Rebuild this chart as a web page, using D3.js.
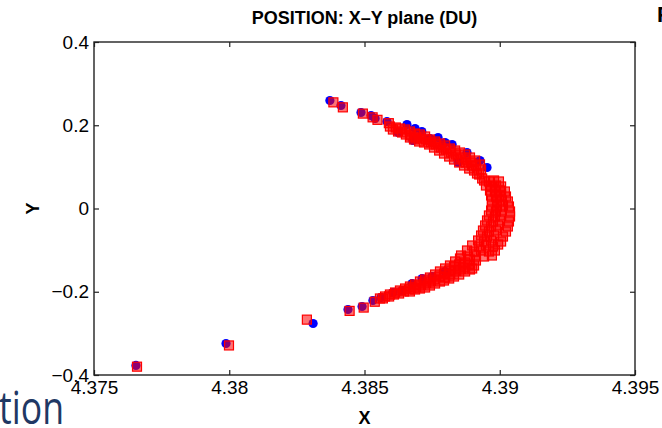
<!DOCTYPE html>
<html>
<head>
<meta charset="utf-8">
<script src="https://cdn.jsdelivr.net/npm/d3@7"></script>
<style>
  body { margin: 0; background: #fff; }
  svg { display: block; font-family: "Liberation Sans", Arial, sans-serif; }
</style>
</head>
<body>
<div id="chart"></div>
<script>
//////////////////////////////////////////////
// Data //////////////////////////////////////
//////////////////////////////////////////////
var xTicks = [4.375, 4.38, 4.385, 4.39, 4.395];
var xTickLabels = ["4.375", "4.38", "4.385", "4.39", "4.395"];
var yTicks = [-0.4, -0.2, 0, 0.2, 0.4];
var yTickLabels = ["\u22120.4", "\u22120.2", "0", "0.2", "0.4"];

// blue filled circles [X, Y]
var bluePoints = [
  [4.37655, -0.3771], [4.37988, -0.3243], [4.38310, -0.2763],
  [4.38372, 0.2595], [4.38413, 0.2474], [4.38487, 0.2306], [4.38524, 0.2234],
  [4.38539, 0.2162], [4.38583, 0.2090], [4.38624, 0.1826], [4.38657, 0.2018],
  [4.38687, 0.1922], [4.38679, 0.1634], [4.38712, 0.1850], [4.38742, 0.1682],
  [4.38772, 0.1706], [4.38798, 0.1586], [4.38824, 0.1538],
  [4.38846, 0.1105], [4.38879, 0.1345], [4.38927, 0.1153], [4.38953, 0.0985],
  [4.38439, -0.2426], [4.38491, -0.2354], [4.38531, -0.2210], [4.38561, -0.2138],
  [4.38605, -0.2018], [4.38639, -0.1970], [4.38676, -0.1802], [4.38713, -0.1682],
  [4.38750, -0.1634], [4.38798, -0.1513]
];

// red open squares [X, Y]
var redPoints = [
  // isolated
  [4.37659, -0.380], [4.37999, -0.329], [4.38287, -0.267],
  [4.38385, 0.255], [4.38420, 0.243], [4.38494, 0.228], [4.38530, 0.219],
  [4.38548, 0.213], [4.38590, 0.205],
  [4.38445, -0.246], [4.38497, -0.238], [4.38538, -0.224], [4.38568, -0.216],
  // upper arm
  [4.38594, 0.1970], [4.38605, 0.1898],
  [4.38616, 0.1946], [4.38624, 0.1850],
  [4.38631, 0.1922], [4.38639, 0.1826],
  [4.38650, 0.1898], [4.38653, 0.1778],
  [4.38668, 0.1850], [4.38672, 0.1754], [4.38668, 0.1706],
  [4.38687, 0.1802], [4.38690, 0.1706], [4.38683, 0.1658],
  [4.38705, 0.1778], [4.38709, 0.1682], [4.38702, 0.1610],
  [4.38724, 0.1730], [4.38727, 0.1658], [4.38720, 0.1586],
  [4.38742, 0.1658], [4.38746, 0.1586], [4.38739, 0.1538],
  [4.38761, 0.1610], [4.38764, 0.1538], [4.38757, 0.1465],
  [4.38779, 0.1562], [4.38783, 0.1465], [4.38776, 0.1393],
  [4.38798, 0.1514], [4.38801, 0.1417], [4.38794, 0.1321],
  [4.38816, 0.1441], [4.38820, 0.1345], [4.38813, 0.1249],
  [4.38835, 0.1393], [4.38838, 0.1297], [4.38831, 0.1177],
  [4.38853, 0.1345], [4.38857, 0.1225], [4.38850, 0.1105],
  [4.38872, 0.1297], [4.38875, 0.1177], [4.38868, 0.1033], [4.38875, 0.1105],
  [4.38890, 0.1225], [4.38894, 0.1105], [4.38887, 0.0961], [4.38898, 0.1033],
  [4.38909, 0.1153], [4.38912, 0.1033], [4.38905, 0.0913], [4.38916, 0.0841],
  [4.38927, 0.1057], [4.38931, 0.0937], [4.38924, 0.0817], [4.38935, 0.0721],
  // tip
  [4.38942, 0.0673], [4.38960, 0.0649], [4.38979, 0.0673], [4.38997, 0.0649],
  [4.38949, 0.0553], [4.38968, 0.0529], [4.38986, 0.0553], [4.39005, 0.0529],
  [4.38964, 0.0432], [4.38982, 0.0408], [4.39001, 0.0432], [4.39019, 0.0408],
  [4.38968, 0.0312], [4.38986, 0.0288], [4.39005, 0.0312], [4.39023, 0.0288],
  [4.38971, 0.0192], [4.38990, 0.0168], [4.39008, 0.0192], [4.39030, 0.0168],
  [4.38971, 0.0072], [4.38990, 0.0048], [4.39012, 0.0072], [4.39034, 0.0048],
  [4.38968, -0.0048], [4.38986, -0.0072], [4.39008, -0.0048], [4.39038, -0.0072],
  [4.38960, -0.0168], [4.38982, -0.0192], [4.39005, -0.0168], [4.39038, -0.0192],
  [4.38953, -0.0288], [4.38975, -0.0312], [4.39001, -0.0288], [4.39034, -0.0312],
  [4.38946, -0.0408], [4.38968, -0.0432], [4.38994, -0.0408], [4.39030, -0.0432],
  [4.38938, -0.0529], [4.38960, -0.0553], [4.38986, -0.0529], [4.39023, -0.0553],
  [4.38931, -0.0649], [4.38953, -0.0673], [4.38979, -0.0649], [4.39012, -0.0673],
  [4.38920, -0.0769], [4.38942, -0.0793], [4.38968, -0.0769], [4.39005, -0.0793],
  [4.38898, -0.0889], [4.38924, -0.0913], [4.38949, -0.0889], [4.38975, -0.0913], [4.38994, -0.0865],
  [4.38879, -0.1009], [4.38905, -0.1033], [4.38931, -0.1009], [4.38960, -0.1033], [4.38982, -0.1009],
  [4.38857, -0.1129], [4.38883, -0.1153], [4.38912, -0.1129], [4.38942, -0.1153], [4.38971, -0.1129],
  // lower arm
  [4.38912, -0.1249], [4.38905, -0.1369], [4.38898, -0.1441],
  [4.38890, -0.1225], [4.38887, -0.1345], [4.38890, -0.1465],
  [4.38872, -0.1297], [4.38868, -0.1417], [4.38872, -0.1513],
  [4.38853, -0.1201], [4.38850, -0.1345], [4.38853, -0.1465], [4.38850, -0.1586],
  [4.38835, -0.1273], [4.38831, -0.1393], [4.38835, -0.1513], [4.38831, -0.1634],
  [4.38816, -0.1369], [4.38813, -0.1489], [4.38816, -0.1586], [4.38813, -0.1682],
  [4.38798, -0.1441], [4.38794, -0.1562], [4.38798, -0.1658], [4.38794, -0.1730],
  [4.38779, -0.1513], [4.38776, -0.1634], [4.38779, -0.1754],
  [4.38761, -0.1586], [4.38757, -0.1706], [4.38761, -0.1802],
  [4.38742, -0.1658], [4.38739, -0.1754], [4.38742, -0.1850],
  [4.38724, -0.1706], [4.38720, -0.1802], [4.38724, -0.1898],
  [4.38705, -0.1754], [4.38702, -0.1850], [4.38705, -0.1922],
  [4.38687, -0.1826], [4.38683, -0.1898], [4.38687, -0.1946],
  [4.38668, -0.1874], [4.38665, -0.1946], [4.38668, -0.1994],
  [4.38650, -0.1922], [4.38646, -0.1994],
  [4.38631, -0.1970], [4.38628, -0.2042],
  [4.38613, -0.2018], [4.38609, -0.2066],
  [4.38594, -0.2066], [4.38591, -0.2114],
  [4.38576, -0.2114], [4.38557, -0.2162]
];

//////////////////////////////////////////////
// Chart Config /////////////////////////////
//////////////////////////////////////////////
var W = 662, H = 428;
var margin = {top: 42, right: 27, bottom: 53, left: 94};
var width = W - margin.left - margin.right,
    height = H - margin.top - margin.bottom;

var xScale = d3.scaleLinear().domain([4.375, 4.395]).range([0, width]);
var yScale = d3.scaleLinear().domain([-0.4, 0.4]).range([height, 0]);

var svg = d3.select("#chart").append("svg")
    .attr("width", W)
    .attr("height", H);

// slide text poking in from the edges
svg.append("text")
    .attr("x", -1).attr("y", 424)
    .attr("textLength", 65)
    .attr("lengthAdjust", "spacingAndGlyphs")
    .style("font-family", "'Open Sans', 'Noto Sans', sans-serif")
    .style("font-size", "46px")
    .style("fill", "#1f3864")
    .text("tion");

svg.append("text")
    .attr("x", 657).attr("y", 22)
    .style("font-size", "22px")
    .style("font-weight", "bold")
    .text("P");

var artboard = svg.append("g")
    .attr("transform", "translate(" + margin.left + "," + margin.top + ")");

// points
artboard.append("g").selectAll("circle")
    .data(bluePoints)
  .enter().append("circle")
    .attr("cx", function(d) { return xScale(d[0]); })
    .attr("cy", function(d) { return yScale(d[1]); })
    .attr("r", 4.6)
    .style("fill", "#0000ff");

var sq = 9;
artboard.append("g").selectAll("rect")
    .data(redPoints)
  .enter().append("rect")
    .attr("x", function(d) { return xScale(d[0]) - sq / 2; })
    .attr("y", function(d) { return yScale(d[1]) - sq / 2; })
    .attr("width", sq)
    .attr("height", sq)
    .style("fill", "rgba(255,0,0,0.55)")
    .style("stroke", "#ff0000")
    .style("stroke-width", 1.2);

// axes (ticks pointing inward on all four sides)
function styleAxis(g) {
  g.select(".domain").remove();
  g.selectAll(".tick line").style("stroke", "#222").style("stroke-width", 1.2);
  g.selectAll(".tick text")
    .style("font-size", "19px")
    .style("font-family", "'Liberation Sans', Arial, sans-serif")
    .style("fill", "#000");
}

artboard.append("g")
    .attr("transform", "translate(0," + height + ")")
    .call(d3.axisBottom(xScale).tickValues(xTicks).tickSize(-5).tickPadding(6)
      .tickFormat(function(d, i) { return xTickLabels[i]; }))
    .call(styleAxis);

artboard.append("g")
    .call(d3.axisTop(xScale).tickValues(xTicks).tickSize(-5).tickFormat(""))
    .call(styleAxis);

artboard.append("g")
    .call(d3.axisLeft(yScale).tickValues(yTicks).tickSize(-5).tickPadding(5)
      .tickFormat(function(d, i) { return yTickLabels[i]; }))
    .call(styleAxis);

artboard.append("g")
    .attr("transform", "translate(" + width + ",0)")
    .call(d3.axisRight(yScale).tickValues(yTicks).tickSize(-5).tickFormat(""))
    .call(styleAxis);

// frame
artboard.append("rect")
    .attr("width", width)
    .attr("height", height)
    .style("fill", "none")
    .style("stroke", "#222")
    .style("stroke-width", 1.4);

// titles
svg.append("text")
    .attr("x", margin.left + width / 2).attr("y", 24)
    .attr("text-anchor", "middle")
    .style("font-size", "18px")
    .style("font-weight", "bold")
    .text("POSITION: X\u2013Y plane (DU)");

svg.append("text")
    .attr("x", margin.left + width / 2).attr("y", 424)
    .attr("text-anchor", "middle")
    .style("font-size", "18px")
    .style("font-weight", "bold")
    .text("X");

svg.append("text")
    .attr("transform", "translate(39," + (margin.top + height / 2) + ") rotate(-90)")
    .attr("text-anchor", "middle")
    .style("font-size", "18px")
    .style("font-weight", "bold")
    .text("Y");
</script>
</body>
</html>
